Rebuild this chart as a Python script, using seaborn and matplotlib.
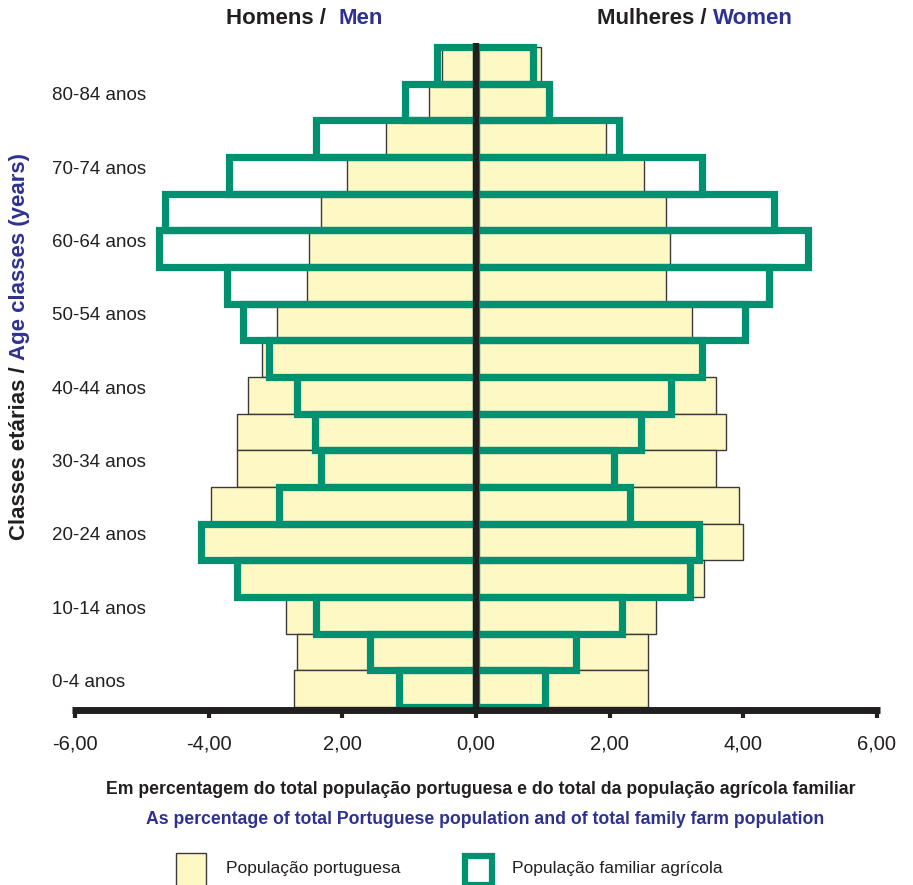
import matplotlib
matplotlib.use("Agg")
import matplotlib.pyplot as plt
import seaborn as sns
import pandas as pd
import numpy as np
from matplotlib.patches import Rectangle

# ---------------- data ----------------
ages = ['0-4', '5-9', '10-14', '15-19', '20-24', '25-29', '30-34', '35-39', '40-44',
        '45-49', '50-54', '55-59', '60-64', '65-69', '70-74', '75-79', '80-84', '85+']
age_labels = ['0-4 anos', '10-14 anos', '20-24 anos', '30-34 anos', '40-44 anos',
              '50-54 anos', '60-64 anos', '70-74 anos', '80-84 anos']
pt_male = [2.73, 2.68, 2.84, 3.57, 4.10, 3.97, 3.58, 3.58, 3.42,
           3.21, 2.98, 2.53, 2.50, 2.32, 1.93, 1.35, 0.70, 0.51]
pt_female = [2.58, 2.58, 2.69, 3.42, 3.99, 3.94, 3.60, 3.74, 3.60,
             3.38, 3.23, 2.84, 2.91, 2.84, 2.52, 1.95, 1.08, 0.97]
agr_male = [1.16, 1.58, 2.40, 3.58, 4.12, 2.95, 2.32, 2.41, 2.68,
            3.10, 3.49, 3.73, 4.75, 4.66, 3.70, 2.40, 1.06, 0.58]
agr_female = [1.04, 1.49, 2.19, 3.20, 3.34, 2.30, 2.06, 2.47, 2.92,
              3.39, 4.02, 4.39, 4.97, 4.46, 3.39, 2.14, 1.09, 0.85]
xticks = [-6, -4, -2, 0, 2, 4, 6]
xtick_labels = ['-6,00', '-4,00', '2,00', '0,00', '2,00', '4,00', '6,00']

# ---------------- style ----------------
sns.set_theme(style="white")
plt.rcParams['font.family'] = ['Liberation Sans', 'DejaVu Sans']

YELLOW = '#fef8c4'
GREEN = '#009270'
BLUE = '#2e3192'
BLACK = '#231f20'

df = pd.DataFrame({
    'age': ages,
    'pt_m': [-v for v in pt_male],
    'pt_f': pt_female,
    'ag_m': [-v for v in agr_male],
    'ag_f': agr_female,
})
order = ages[::-1]

W, H = 913, 885
fig = plt.figure(figsize=(W / 100, H / 100), dpi=100)
ax = fig.add_axes([72.5 / W, (H - 710) / H, 807 / W, 663 / H])

for col in ['pt_m', 'pt_f']:
    sns.barplot(data=df, x=col, y='age', order=order, orient='h', width=1.0,
                color=YELLOW, saturation=1, edgecolor='#3a3a3a', linewidth=1.0,
                errorbar=None, ax=ax, zorder=2)
for col in ['ag_m', 'ag_f']:
    sns.barplot(data=df, x=col, y='age', order=order, orient='h', width=1.0,
                fill=False, color=GREEN, saturation=1, linewidth=5.2,
                errorbar=None, ax=ax, zorder=3)
for p in ax.patches:
    p.set_clip_on(False)
    if p.get_zorder() == 3 or p.get_facecolor()[3] == 0:
        p.set_edgecolor(GREEN)

n = len(ages)
ax.set_xlim(-6.04, 6.04)
ax.set_ylim(n - 0.5 + 0.08, -0.5)
ax.axvline(0, ymin=0, ymax=1.006, color=BLACK, lw=4.5, zorder=5, clip_on=False,
           solid_capstyle='butt')

# axes styling
for s in ['top', 'right', 'left']:
    ax.spines[s].set_visible(False)
ax.spines['bottom'].set_color(BLACK)
ax.spines['bottom'].set_linewidth(5)
ax.spines['bottom'].set_capstyle('butt')
ax.spines['bottom'].set_zorder(6)
ax.set_xticks(xticks)
ax.set_xticklabels(xtick_labels, fontsize=14.5)
ax.tick_params(axis='x', direction='out', length=6, width=3, color=BLACK,
               pad=12, labelcolor=BLACK, bottom=True)
ax.set_yticks([])
ax.set_xlabel('')
ax.set_ylabel('')

# age labels (every other class)
for i, lab in enumerate(age_labels):
    age = ages[2 * i]
    ypos = order.index(age) - 0.17
    ax.text(-6.35, ypos, lab, ha='left', va='center', fontsize=13.5, color=BLACK,
            clip_on=False, zorder=7)

renderer = fig.canvas.get_renderer()


def multicolor(x_px, y_px, parts, fontsize, rotation=0):
    """Place consecutive text pieces starting at (x_px, y_px) in figure pixels."""
    pos = 0.0
    for s, c in parts:
        if rotation == 0:
            t = fig.text((x_px + pos) / W, 1 - y_px / H, s, color=c, fontsize=fontsize,
                         fontweight='bold', ha='left', va='center')
            bb = t.get_window_extent(renderer)
            pos += bb.width
        else:
            t = fig.text(x_px / W, 1 - (y_px - pos) / H, s, color=c, fontsize=fontsize,
                         fontweight='bold', ha='left', va='center', rotation=90,
                         rotation_mode='anchor')
            bb = t.get_window_extent(renderer)
            pos += bb.height


multicolor(226, 18, [('Homens /  ', BLACK), ('Men', BLUE)], 16)
multicolor(597, 18, [('Mulheres / ', BLACK), ('Women', BLUE)], 16)
multicolor(19, 540, [('Classes etárias / ', BLACK), ('Age classes (years)', BLUE)], 16,
           rotation=90)

fig.text(481 / W, 1 - 790 / H,
         'Em percentagem do total população portuguesa e do total da população agrícola familiar',
         ha='center', va='center', fontsize=12.7, fontweight='bold', color=BLACK)
fig.text(485 / W, 1 - 820 / H,
         'As percentage of total Portuguese population and of total family farm population',
         ha='center', va='center', fontsize=12.7, fontweight='bold', color=BLUE)

# legend
fig.add_artist(Rectangle((176 / W, 1 - 890 / H), 30 / W, 37 / H, transform=fig.transFigure,
                         facecolor=YELLOW, edgecolor='#3a3a3a', lw=1.0))
fig.text(226 / W, 1 - 869 / H, 'População portuguesa', ha='left', va='center',
         fontsize=12.5, color=BLACK)
fig.add_artist(Rectangle((465 / W, 1 - 885 / H), 27 / W, 29 / H, transform=fig.transFigure,
                         facecolor='white', edgecolor=GREEN, lw=4.5))
fig.text(512 / W, 1 - 869 / H, 'População familiar agrícola', ha='left', va='center',
         fontsize=12.5, color=BLACK)

fig.savefig('out.png', dpi=100)
